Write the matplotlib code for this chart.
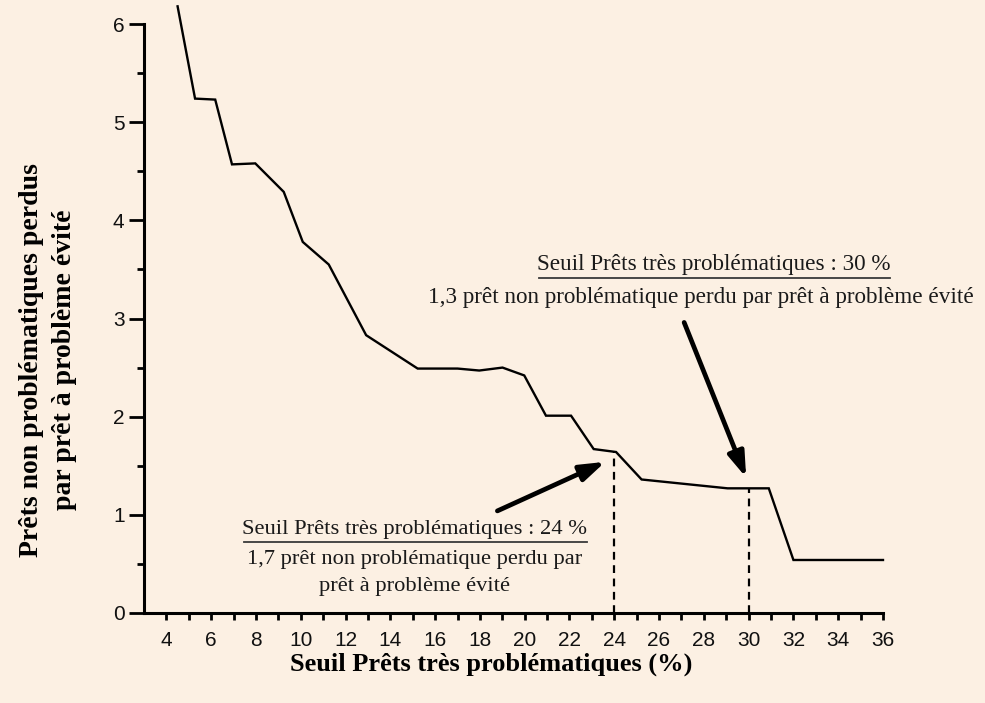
import numpy as np
import matplotlib
matplotlib.use("Agg")
import matplotlib.pyplot as plt
from matplotlib.lines import Line2D
from matplotlib.transforms import IdentityTransform

# data
seuil = [4.50, 5.28, 6.18, 6.93, 7.97, 9.24, 10.09, 11.25, 12.92, 15.22, 17.0,
         17.97, 19.01, 19.98, 20.95, 22.07, 23.08, 24.08, 25.22, 29.06, 30.9,
         32.0, 36.0]
perdus = [6.18, 5.24, 5.23, 4.57, 4.58, 4.29, 3.78, 3.55, 2.83, 2.49, 2.49,
          2.47, 2.50, 2.42, 2.01, 2.01, 1.67, 1.64, 1.36, 1.27, 1.27,
          0.54, 0.54]
thresholds = [24, 30]
xticks = list(range(4, 37, 2))
yticks = [0, 1, 2, 3, 4, 5, 6]

bg = "#fcf0e3"
serif = ["Liberation Serif", "DejaVu Serif"]

fig = plt.figure(figsize=(9.85, 7.03), dpi=100, facecolor=bg)
ax = fig.add_axes([144 / 985, 1 - 613 / 703, 739 / 985, 589 / 703])
ax.set_facecolor(bg)

ax.plot(seuil, perdus, color="black", lw=1.7, clip_on=False, solid_joinstyle="miter")

# dashed drops at the two thresholds
for t in thresholds:
    yv = np.interp(t, seuil, perdus)
    ax.vlines(t, 0, yv, colors="black", linestyles=(0, (3.5, 2.5)), lw=1.6)

ax.set_xlim(3, 36)
ax.set_ylim(0, 6)
ax.set_xticks(xticks)
ax.set_xticks(range(5, 37, 2), minor=True)
ax.set_yticks(yticks)
ax.set_yticks(np.arange(0.5, 6, 1), minor=True)

for s in ["top", "right"]:
    ax.spines[s].set_visible(False)
for s in ["left", "bottom"]:
    ax.spines[s].set_linewidth(2.2)

ax.tick_params(axis="x", which="both", length=5, width=2, pad=8)
ax.tick_params(axis="y", which="major", length=11, width=2, pad=3)
ax.tick_params(axis="y", which="minor", length=5, width=2)
ax.tick_params(which="major", labelsize=15, labelcolor="#111111",
               labelfontfamily="Liberation Sans")

ax.set_xlabel("Seuil Prêts très problématiques (%)", family=serif,
              fontsize=19, fontweight="bold")
ax.xaxis.set_label_coords(0.47, -0.087)
ax.xaxis.label.set_va("center")
ax.set_ylabel("Prêts non problématiques perdus\npar prêt à problème évité",
              family=serif, fontsize=20, fontweight="bold",
              ha="center", va="center", multialignment="center",
              linespacing=1.38)
ax.yaxis.set_label_coords(-0.13, 0.43)

# annotations
tfont = dict(family=serif, color="#1a1a1a", ha="center", va="center")
top1 = ax.text(28.42, 3.55, "Seuil Prêts très problématiques : 30 %", fontsize=16.7, **tfont)
ax.text(27.87, 3.21, "1,3 prêt non problématique perdu par prêt à problème évité",
        fontsize=16.7, **tfont)
bot1 = ax.text(15.07, 0.85, "Seuil Prêts très problématiques : 24 %", fontsize=16.2, **tfont)
ax.text(15.07, 0.55, "1,7 prêt non problématique perdu par", fontsize=16.2, **tfont)
ax.text(15.07, 0.265, "prêt à problème évité", fontsize=16.2, **tfont)

arrow = dict(arrowstyle="-|>,head_length=0.75,head_width=0.25", lw=3.4,
             color="black", shrinkA=0, shrinkB=0, mutation_scale=20)
ax.annotate("", xy=(23.6, 1.54), xytext=(18.78, 1.04), arrowprops=arrow)
ax.annotate("", xy=(29.89, 1.38), xytext=(27.12, 2.96), arrowprops=arrow)

# underline the first line of each annotation
fig.canvas.draw()
r = fig.canvas.get_renderer()
for t in [top1, bot1]:
    bb = t.get_window_extent(r)
    yy = bb.y0 - 3
    fig.add_artist(Line2D([bb.x0 + 2, bb.x1], [yy, yy], transform=IdentityTransform(),
                          color="#3a3a3a", lw=1.3))

fig.savefig("out.png", dpi=100, facecolor=bg)
